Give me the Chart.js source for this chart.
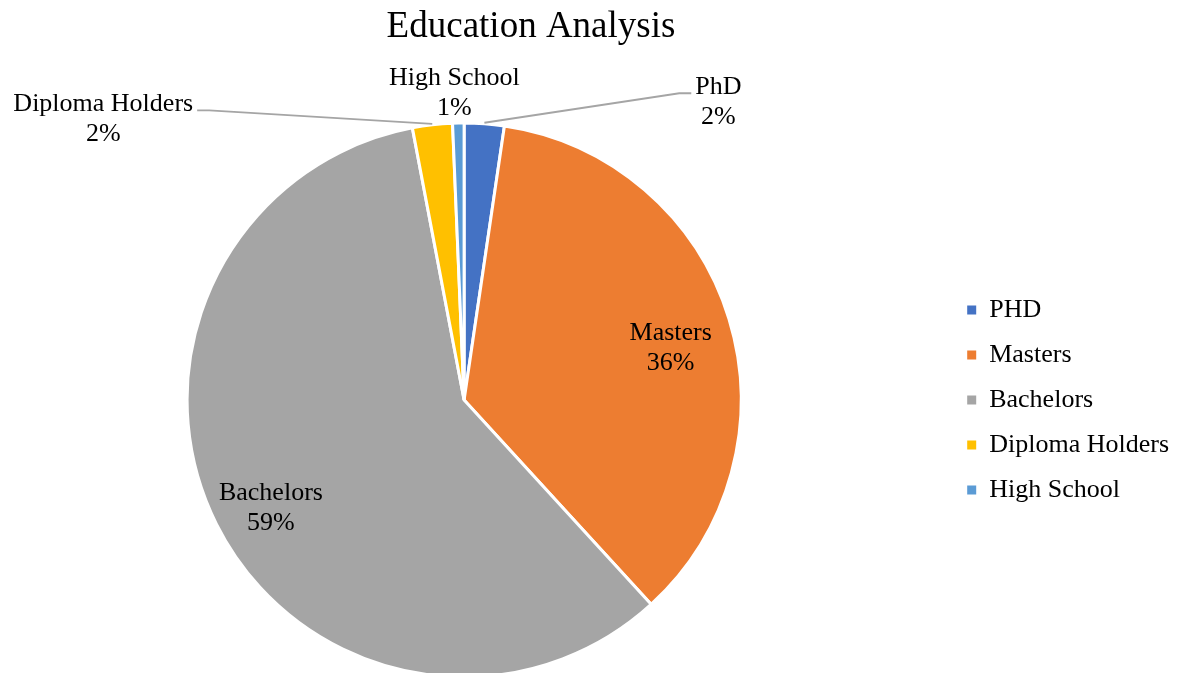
<!DOCTYPE html>
<html>
<head>
<meta charset="utf-8">
<title>Education Analysis</title>
<script src="https://cdn.jsdelivr.net/npm/chart.js@4.4.1/dist/chart.umd.min.js"></script>
<style>
  html, body { margin: 0; padding: 0; background: #fff; overflow: hidden; }
  #page { width: 1179px; height: 673px; position: relative; overflow: hidden; }
  /* canvas runs 20px past the left edge so the pie sits a little left of its box */
  #wrap { position: absolute; left: -20px; top: 0; width: 1199px; height: 673px; }
</style>
</head>
<body>
<div id="page"><div id="wrap"><canvas id="edu"></canvas></div></div>
<script>
// Legend spells the first group "PHD", the slice callout spells it "PhD"
const categories = ['PHD', 'Masters', 'Bachelors', 'Diploma Holders', 'High School'];
const calloutNames = ['PhD', 'Masters', 'Bachelors', 'Diploma Holders', 'High School'];
const headcount = [7, 108, 177, 7, 2];
const sliceColors = ['#4472C4', '#ED7D31', '#A5A5A5', '#FFC000', '#5B9BD5'];

const SERIF = '"Liberation Serif", "Times New Roman", serif';
const LABEL_PX = 26;
const LINE_GAP = 30;
const CANVAS_SHIFT = 20;

// Callout placement: big slices get the label inside, thin ones are pulled out
// (offset from the rim point at the slice's middle angle), some with a leader line
const calloutPlacement = [
  { outside: true, dx: 234, dy: -21, leader: 'toRight' },
  { outside: false, dist: 0.78, dy: 11 },
  { outside: false, dist: 0.78, dy: 11 },
  { outside: true, dx: -329, dy: -5, leader: 'toLeft' },
  { outside: true, dx: -4, dy: -29, leader: null }
];

// Title is centred over the whole figure rather than the pie + legend boxes
const titlePlugin = {
  id: 'figureTitle',
  afterDraw(chart) {
    const ctx = chart.ctx;
    ctx.save();
    ctx.font = '37px ' + SERIF;
    ctx.fillStyle = '#000';
    ctx.textAlign = 'center';
    ctx.textBaseline = 'middle';
    ctx.fillText('Education Analysis', 531 + CANVAS_SHIFT, 27);
    ctx.restore();
  }
};

const calloutPlugin = {
  id: 'callouts',
  afterDatasetsDraw(chart) {
    const ctx = chart.ctx;
    const meta = chart.getDatasetMeta(0);
    const total = headcount.reduce((a, b) => a + b, 0);

    ctx.save();
    ctx.font = LABEL_PX + 'px ' + SERIF;
    ctx.textAlign = 'center';
    ctx.textBaseline = 'middle';

    meta.data.forEach((arc, i) => {
      const { x, y, startAngle, endAngle, outerRadius } =
        arc.getProps(['x', 'y', 'startAngle', 'endAngle', 'outerRadius'], true);
      const mid = (startAngle + endAngle) / 2;
      const place = calloutPlacement[i];
      const lines = [calloutNames[i], Math.round(headcount[i] / total * 100) + '%'];
      let cx, cy;

      if (!place.outside) {
        const r = outerRadius * place.dist;
        cx = x + Math.cos(mid) * r;
        cy = y + Math.sin(mid) * r + place.dy;
      } else {
        const ax = x + Math.cos(mid) * (outerRadius + 1);
        const ay = y + Math.sin(mid) * (outerRadius + 1);
        cx = ax + place.dx;
        cy = ay + place.dy;

        if (place.leader) {
          const w = ctx.measureText(lines[0]).width;
          const ly = cy - LINE_GAP / 2 + 6.5;
          const endX = place.leader === 'toRight' ? cx - w / 2 - 4 : cx + w / 2 + 4;
          const elbowX = place.leader === 'toRight' ? endX - 12 : endX + 12;
          ctx.strokeStyle = '#a5a5a5';
          ctx.lineWidth = 1.8;
          ctx.beginPath();
          ctx.moveTo(ax, ay);
          ctx.lineTo(elbowX, ly);
          ctx.lineTo(endX, ly);
          ctx.stroke();
        }
      }

      ctx.fillStyle = '#000';
      ctx.fillText(lines[0], cx, cy - LINE_GAP / 2);
      ctx.fillText(lines[1], cx, cy + LINE_GAP / 2);
    });
    ctx.restore();
  }
};

new Chart(document.getElementById('edu'), {
  type: 'pie',
  data: {
    labels: categories,
    datasets: [{
      data: headcount,
      backgroundColor: sliceColors,
      borderColor: '#ffffff',
      borderWidth: 3,
      radius: 277,
      hoverOffset: 0
    }]
  },
  options: {
    responsive: true,
    maintainAspectRatio: false,
    animation: false,
    layout: { padding: { left: 0, right: 0, top: 127, bottom: 0 } },
    plugins: {
      title: { display: false },
      legend: {
        position: 'right',
        labels: {
          color: '#000',
          font: { family: SERIF, size: LABEL_PX },
          boxWidth: 9,
          boxHeight: 9,
          padding: 19,
          generateLabels(chart) {
            const items = Chart.overrides.pie.plugins.legend.labels.generateLabels(chart);
            return items.map(it => Object.assign(it, { lineWidth: 0, strokeStyle: 'rgba(0,0,0,0)' }));
          }
        }
      },
      tooltip: { enabled: true }
    }
  },
  plugins: [calloutPlugin, titlePlugin]
});
</script>
</body>
</html>
